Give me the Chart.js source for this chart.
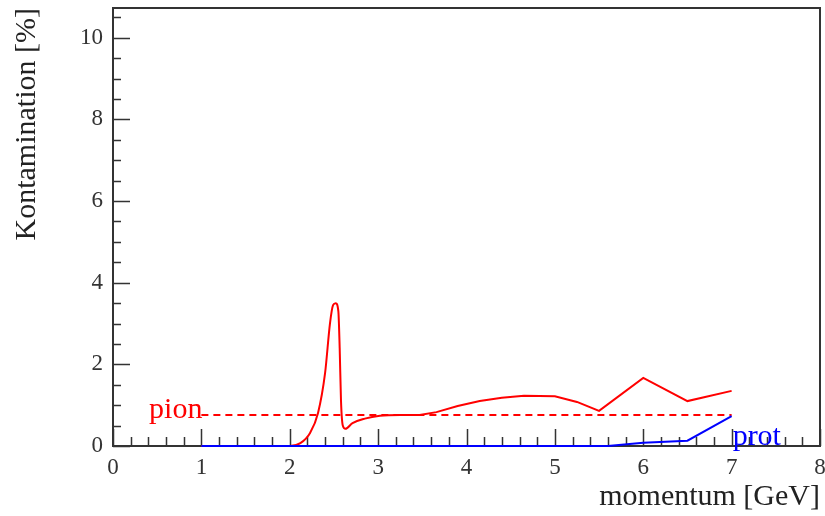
<!DOCTYPE html>
<html>
<head>
<meta charset="utf-8">
<script src="https://cdn.jsdelivr.net/npm/chart.js@4/dist/chart.umd.min.js"></script>
<style>
  html, body { margin: 0; padding: 0; background: #fff; }
  #wrap { width: 825px; height: 516px; }
</style>
</head>
<body>
<div id="wrap"><canvas id="kontChart"></canvas></div>
<script>
(() => {
  // momentum [GeV] / contamination [%]
  // pion: smooth part around the peak, then straight segments
  const pionPeakMomentum = [1.0, 2.0, 2.12, 2.23, 2.32, 2.4, 2.455, 2.49, 2.52, 2.55, 2.565, 2.58, 2.6, 2.63, 2.71, 2.85, 3.02, 3.25, 3.47];
  const pionPeakKont = [0, 0, 0.07, 0.32, 0.81, 1.79, 3.0, 3.45, 3.5, 3.3, 2.4, 1.1, 0.5, 0.42, 0.56, 0.67, 0.74, 0.76, 0.76];
  const pionTailMomentum = [3.47, 3.66, 3.9, 4.15, 4.4, 4.65, 5.0, 5.25, 5.5, 6.0, 6.5, 7.0];
  const pionTailKont = [0.76, 0.83, 0.98, 1.1, 1.18, 1.23, 1.22, 1.08, 0.86, 1.67, 1.1, 1.35];
  const pionLevelMomentum = [1.0, 7.0];
  const pionLevel = [0.76, 0.76];
  const protMomentum = [1.0, 5.6, 6.0, 6.5, 7.0];
  const protKont = [0, 0, 0.08, 0.13, 0.73];

  const xTicks = [0, 1, 2, 3, 4, 5, 6, 7, 8];
  const yTicks = [0, 2, 4, 6, 8, 10];
  const xMinorStep = 0.2;
  const yMinorStep = 0.5;

  const toPoints = (xs, ys) => xs.map((x, i) => ({ x, y: ys[i] }));
  const serif = '"Liberation Serif", "Times New Roman", serif';
  const ink = '#333';

  // frame and inward ticks go under the curves
  const framePlugin = {
    id: 'frame',
    beforeDatasetsDraw(chart) {
      const { ctx, chartArea: a, scales: { x, y } } = chart;
      ctx.save();
      ctx.strokeStyle = ink;
      ctx.lineWidth = 2;
      ctx.strokeRect(a.left, a.top, a.right - a.left, a.bottom - a.top);

      ctx.lineWidth = 1.5;
      ctx.beginPath();
      for (let v = x.min; v <= x.max + 1e-6; v += xMinorStep) {
        const px = Math.round(x.getPixelForValue(v)) + 0.5;
        const major = Math.abs(v - Math.round(v)) < 1e-6;
        ctx.moveTo(px, a.bottom);
        ctx.lineTo(px, a.bottom - (major ? 17 : 9));
      }
      for (let v = 0; v <= y.max + 1e-6; v += yMinorStep) {
        const py = Math.round(y.getPixelForValue(v)) + 0.5;
        const major = Math.abs(v / 2 - Math.round(v / 2)) < 1e-6;
        ctx.moveTo(a.left, py);
        ctx.lineTo(a.left + (major ? 17 : 8), py);
      }
      ctx.stroke();
      ctx.restore();
    },
    afterDraw(chart) {
      const { ctx, scales: { x, y } } = chart;
      ctx.save();
      ctx.font = `30px ${serif}`;
      ctx.textBaseline = 'alphabetic';
      ctx.fillStyle = '#ff0000';
      ctx.textAlign = 'right';
      ctx.fillText('pion', x.getPixelForValue(1.0) + 1, y.getPixelForValue(0.76) + 3);
      ctx.fillStyle = '#0000ff';
      ctx.textAlign = 'left';
      ctx.fillText('prot', x.getPixelForValue(7.0) + 1, y.getPixelForValue(0) - 1);
      ctx.restore();
    },
  };

  const line = (label, xs, ys, color, extra) => ({
    label,
    data: toPoints(xs, ys),
    borderColor: color,
    borderWidth: 2,
    pointRadius: 0,
    tension: 0,
    clip: false,
    ...extra,
  });

  new Chart(document.getElementById('kontChart'), {
    type: 'line',
    data: {
      datasets: [
        line('prot', protMomentum, protKont, '#0000ff', { order: 0 }),
        line('pion', pionPeakMomentum, pionPeakKont, '#ff0000', { cubicInterpolationMode: 'monotone', order: 1 }),
        line('pion tail', pionTailMomentum, pionTailKont, '#ff0000', { order: 1 }),
        line('pion level', pionLevelMomentum, pionLevel, '#ff0000', { borderDash: [7, 5], order: 2 }),
      ],
    },
    options: {
      responsive: true,
      maintainAspectRatio: false,
      animation: false,
      layout: { padding: { top: 8, right: 5, left: 0, bottom: 0 } },
      plugins: {
        legend: { display: false },
        tooltip: { enabled: false },
      },
      scales: {
        x: {
          type: 'linear',
          min: 0,
          max: 8,
          afterBuildTicks: (scale) => { scale.ticks = xTicks.map(value => ({ value })); },
          afterFit: (scale) => {
            scale.height = 70;
            scale.paddingLeft = 0;
            scale.paddingRight = 0;
          },
          grid: { display: false, drawTicks: false },
          border: { display: false },
          ticks: {
            color: ink,
            padding: 8,
            maxRotation: 0,
            font: { family: serif, size: 23 },
          },
          title: {
            display: true,
            text: 'momentum [GeV]',
            align: 'end',
            color: '#222',
            padding: { top: 0, bottom: 1 },
            font: { family: serif, size: 30 },
          },
        },
        y: {
          type: 'linear',
          min: 0,
          max: 10.73,
          afterBuildTicks: (scale) => { scale.ticks = yTicks.map(value => ({ value })); },
          afterFit: (scale) => {
            scale.width = 113;
            scale.paddingTop = 0;
            scale.paddingBottom = 0;
          },
          grid: { display: false, drawTicks: false },
          border: { display: false },
          ticks: {
            color: ink,
            padding: 10,
            font: { family: serif, size: 23 },
          },
          title: {
            display: true,
            text: 'Kontamination [%]',
            align: 'end',
            color: '#222',
            padding: { top: 9, bottom: 0 },
            font: { family: serif, size: 30 },
          },
        },
      },
    },
    plugins: [framePlugin],
  });
})();
</script>
</body>
</html>
